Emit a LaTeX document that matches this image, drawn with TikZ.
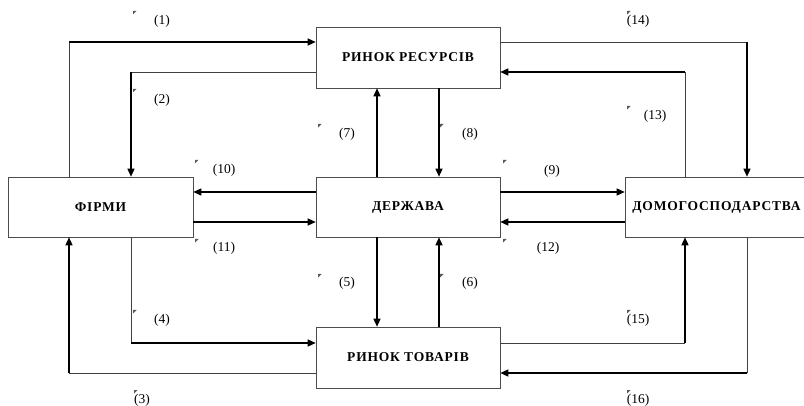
\documentclass[tikz,border=0pt]{standalone}
\usepackage{fontspec}
\setmainfont{Liberation Serif}
\usetikzlibrary{arrows.meta}
\begin{document}
\begin{tikzpicture}[x=1pt,y=-1pt,
	box/.style={draw=black!70,line width=0.6pt,minimum width=184pt,minimum height=60pt,inner sep=0pt,font=\fontsize{13.5}{15}\selectfont\addfontfeature{LetterSpace=6}\bfseries},
	lite/.style={draw=black!75,line width=0.6pt},
	heavy/.style={line width=1.4pt,-{Triangle[length=8pt,width=7pt]}},
	lbl/.style={font=\fontsize{13.5}{15}\selectfont,inner sep=0pt},
	tick/.style={fill=black!65}]
	\useasboundingbox (0,0) rectangle (804,406);
		% boxes
		\node [box,minimum height=61pt] (res) at (408,57.5) {РИНОК РЕСУРСІВ};
		\node [box,minimum width=185pt] (firm) at (100.5,207) {ФІРМИ};
		\node [box] (state) at (408,207) {ДЕРЖАВА};
		\node [box,minimum width=183pt] (house) at (716.5,207) {ДОМОГОСПОДАРСТВА};
		\node [box,minimum height=61pt] (goods) at (408,357.5) {РИНОК ТОВАРІВ};
		% bends of the outer flows
		\coordinate (c1) at (69,42);
		\coordinate (c2) at (131,72);
		\coordinate (c3) at (69,373);
		\coordinate (c4) at (131,343);
		\coordinate (c13) at (685,72);
		\coordinate (c14) at (747,42);
		\coordinate (c15) at (685,343);
		\coordinate (c16) at (747,373);
		% firms <-> resources market
		\draw [lite] (firm.north -| c1) -- (c1);
		\draw [heavy] (c1) -- (c1 -| res.west);
		\draw [lite] (c2 -| res.west) -- (c2);
		\draw [heavy] (c2) -- (firm.north -| c2);
		% firms <-> goods market
		\draw [lite] (c3 -| goods.west) -- (c3);
		\draw [heavy] (c3) -- (firm.south -| c3);
		\draw [lite] (firm.south -| c4) -- (c4);
		\draw [heavy] (c4) -- (c4 -| goods.west);
		% households <-> resources market
		\draw [lite] (c14 -| res.east) -- (c14);
		\draw [heavy] (c14) -- (house.north -| c14);
		\draw [lite] (house.north -| c13) -- (c13);
		\draw [heavy] (c13) -- (c13 -| res.east);
		% households <-> goods market
		\draw [lite] (c15 -| goods.east) -- (c15);
		\draw [heavy] (c15) -- (house.south -| c15);
		\draw [lite] (house.south -| c16) -- (c16);
		\draw [heavy] (c16) -- (c16 -| goods.east);
		% state
		\draw [heavy] (state.north -| 377,0) -- (res.south -| 377,0);
		\draw [heavy] (res.south -| 439,0) -- (state.north -| 439,0);
		\draw [heavy] (state.south -| 377,0) -- (goods.north -| 377,0);
		\draw [heavy] (goods.north -| 439,0) -- (state.south -| 439,0);
		\draw [heavy] (state.west |- 0,192) -- (firm.east |- 0,192);
		\draw [heavy] (firm.east |- 0,222) -- (state.west |- 0,222);
		\draw [heavy] (state.east |- 0,192) -- (house.west |- 0,192);
		\draw [heavy] (house.west |- 0,222) -- (state.east |- 0,222);
		% labels
		\node [lbl] (l1) at (162,21) {(1)};
		\node [lbl] (l2) at (162,100) {(2)};
		\node [lbl] (l3) at (142,400) {(3)};
		\node [lbl] (l4) at (162,320) {(4)};
		\node [lbl] (l5) at (347,283) {(5)};
		\node [lbl] (l6) at (470,283) {(6)};
		\node [lbl] (l7) at (347,134) {(7)};
		\node [lbl] (l8) at (470,134) {(8)};
		\node [lbl] (l9) at (552,171) {(9)};
		\node [lbl] (l10) at (224,170) {(10)};
		\node [lbl] (l11) at (224,248) {(11)};
		\node [lbl] (l12) at (548,248) {(12)};
		\node [lbl] (l13) at (655,116) {(13)};
		\node [lbl] (l14) at (638,21) {(14)};
		\node [lbl] (l15) at (638,320) {(15)};
		\node [lbl] (l16) at (638,400) {(16)};
		% corner marks
		\foreach \x/\y in {133/11,133/89,134/390,133/310,318/274,440/274,318/124,440/124,
			503/160,195/160,195/239,503/239,627/106,627/11,627/310,627/390}
			\fill [tick] (\x,\y) -- ++(3.5,0) -- ++(-3.5,3.5) -- cycle;
	\end{tikzpicture}
\end{document}
